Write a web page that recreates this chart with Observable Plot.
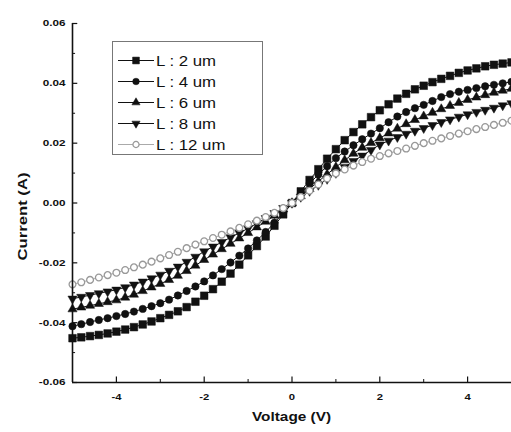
<!DOCTYPE html>
<html>
<head>
<meta charset="utf-8">
<script src="https://cdn.jsdelivr.net/npm/d3@7"></script>
<script src="https://cdn.jsdelivr.net/npm/@observablehq/plot@0.6"></script>
<style>
  html, body { margin: 0; padding: 0; background: #fff; }
  #wrap { position: relative; width: 511px; height: 432px; font-family: "Liberation Sans", Arial, sans-serif; }
  #legend { position: absolute; left: 112px; top: 41px; width: 151px; height: 114px; box-sizing: border-box; border: 1px solid #777; background: #fff; }
  .row { position: absolute; left: 0; height: 21px; display: flex; align-items: center; }
  .row svg { margin-left: 3px; flex: none; }
  .row span { margin-left: 0px; font-size: 14px; color: #111; display: inline-block; transform: scaleX(1.2); transform-origin: left center; white-space: nowrap; }
</style>
</head>
<body>
<div id="wrap"><div id="chart"></div><div id="legend"></div></div>
<script>
// Voltage sweep (V)
const voltage = [-5.0,-4.8,-4.6,-4.4,-4.2,-4.0,-3.8,-3.6,-3.4,-3.2,-3.0,-2.8,-2.6,-2.4,-2.2,-2.0,-1.8,-1.6,-1.4,-1.2,-1.0,-0.8,-0.6,-0.4,-0.2,0.0,
  0.2,0.4,0.6,0.8,1.0,1.2,1.4,1.6,1.8,2.0,2.2,2.4,2.6,2.8,3.0,3.2,3.4,3.6,3.8,4.0,4.2,4.4,4.6,4.8,5.0];

// Current (A) for each channel length
const i2um = [-0.0452,-0.0449,-0.0445,-0.0441,-0.0436,-0.0430,-0.0423,-0.0415,-0.0406,-0.0396,-0.0385,-0.0374,-0.0362,-0.0348,-0.0330,-0.0310,-0.0288,-0.0263,-0.0236,-0.0206,-0.0175,-0.0144,-0.0112,-0.0076,-0.0038,0.0000,
  0.0039,0.0077,0.0113,0.0148,0.0180,0.0210,0.0237,0.0263,0.0287,0.0310,0.0330,0.0349,0.0365,0.0380,0.0392,0.0404,0.0415,0.0425,0.0435,0.0443,0.0450,0.0457,0.0462,0.0466,0.0470];
const i4um = [-0.0412,-0.0405,-0.0398,-0.0391,-0.0385,-0.0378,-0.0371,-0.0363,-0.0354,-0.0345,-0.0335,-0.0323,-0.0309,-0.0294,-0.0279,-0.0262,-0.0242,-0.0221,-0.0199,-0.0176,-0.0152,-0.0125,-0.0097,-0.0066,-0.0033,0.0000,
  0.0032,0.0065,0.0095,0.0123,0.0150,0.0172,0.0193,0.0213,0.0232,0.0250,0.0270,0.0289,0.0304,0.0317,0.0328,0.0341,0.0354,0.0364,0.0372,0.0378,0.0384,0.0390,0.0395,0.0400,0.0405];
const i6um = [-0.0355,-0.0349,-0.0343,-0.0337,-0.0331,-0.0325,-0.0316,-0.0306,-0.0294,-0.0282,-0.0270,-0.0257,-0.0243,-0.0227,-0.0209,-0.0190,-0.0172,-0.0154,-0.0136,-0.0118,-0.0100,-0.0081,-0.0062,-0.0042,-0.0021,0.0000,
  0.0023,0.0047,0.0072,0.0096,0.0120,0.0143,0.0165,0.0185,0.0201,0.0217,0.0233,0.0249,0.0264,0.0278,0.0290,0.0302,0.0314,0.0325,0.0335,0.0345,0.0353,0.0361,0.0369,0.0376,0.0382];
const i8um = [-0.0320,-0.0314,-0.0308,-0.0302,-0.0296,-0.0290,-0.0282,-0.0273,-0.0263,-0.0252,-0.0240,-0.0227,-0.0213,-0.0197,-0.0180,-0.0162,-0.0146,-0.0131,-0.0115,-0.0100,-0.0085,-0.0068,-0.0051,-0.0034,-0.0017,0.0000,
  0.0020,0.0040,0.0060,0.0080,0.0100,0.0120,0.0140,0.0158,0.0177,0.0195,0.0208,0.0220,0.0231,0.0241,0.0250,0.0260,0.0270,0.0279,0.0288,0.0296,0.0304,0.0311,0.0318,0.0326,0.0333];
const i12um = [-0.0272,-0.0265,-0.0257,-0.0249,-0.0241,-0.0233,-0.0224,-0.0215,-0.0206,-0.0196,-0.0185,-0.0174,-0.0163,-0.0151,-0.0139,-0.0128,-0.0117,-0.0106,-0.0095,-0.0083,-0.0071,-0.0059,-0.0047,-0.0033,-0.0017,0.0000,
  0.0020,0.0041,0.0062,0.0082,0.0099,0.0112,0.0125,0.0137,0.0148,0.0157,0.0166,0.0174,0.0182,0.0191,0.0200,0.0208,0.0216,0.0224,0.0232,0.0240,0.0247,0.0254,0.0261,0.0268,0.0275];

const seriesNames = ["L : 2 um", "L : 4 um", "L : 6 um", "L : 8 um", "L : 12 um"];
const xTicks = [-4, -2, 0, 2, 4];
const xMinorTicks = [-3, -1, 1, 3, 5];
const yTicks = [-0.06, -0.04, -0.02, 0, 0.02, 0.04, 0.06];
const yMinorTicks = [-0.05, -0.03, -0.01, 0.01, 0.03, 0.05];
const xTitle = "Voltage (V)";
const yTitle = "Current (A)";

// down-pointing triangle symbol
const triangleDown = {
  draw(ctx, size) {
    d3.symbolTriangle.draw({
      moveTo: (x, y) => ctx.moveTo(x, -y),
      lineTo: (x, y) => ctx.lineTo(x, -y),
      closePath: () => ctx.closePath()
    }, size);
  }
};

const styles = [
  {symbol: d3.symbolSquare, r: 4.3, fill: "#111", stroke: "#111", line: "#111", sw: 0.5},
  {symbol: d3.symbolCircle, r: 3.7, fill: "#111", stroke: "#111", line: "#111", sw: 0.5},
  {symbol: d3.symbolTriangle, r: 3.4, fill: "#111", stroke: "#111", line: "#111", sw: 0.5},
  {symbol: triangleDown, r: 3.4, fill: "#111", stroke: "#111", line: "#111", sw: 0.5},
  {symbol: d3.symbolCircle, r: 3.4, fill: "#fff", stroke: "#999", line: "#aaa", sw: 1.3}
];

const allSeries = [i2um, i4um, i6um, i8um, i12um];
const tables = allSeries.map((arr, k) => voltage.map((v, j) => ({V: v, I: arr[j], s: seriesNames[k]})));

const X0 = -5, Y0 = -0.06;
const marks = [];
tables.forEach((t, k) => {
  const st = styles[k];
  marks.push(Plot.line(t, {x: "V", y: "I", stroke: st.line, strokeWidth: 1}));
  marks.push(Plot.dot(t, {x: "V", y: "I", symbol: () => st.symbol, r: st.r, fill: st.fill, stroke: st.stroke, strokeWidth: st.sw}));
});

const plot = Plot.plot({
  width: 511,
  height: 432,
  marginLeft: 72,
  marginRight: 0,
  marginTop: 23,
  marginBottom: 50,
  style: {fontFamily: "'Liberation Sans', Arial, sans-serif", background: "#fff", color: "#111"},
  x: {domain: [-5, 5]},
  y: {domain: [-0.06, 0.06]},
  symbol: {type: "identity"},
  marks: [
    ...marks,
    Plot.ruleY([Y0], {stroke: "#111", strokeWidth: 1.6}),
    Plot.ruleX([X0], {stroke: "#111", strokeWidth: 1.6}),
    Plot.ruleX(xTicks, {x: d => d, y1: Y0, y2: Y0 + 0.0018, stroke: "#111", strokeWidth: 1.2}),
    Plot.ruleX(xMinorTicks, {x: d => d, y1: Y0, y2: Y0 + 0.001, stroke: "#111", strokeWidth: 1}),
    Plot.ruleY(yTicks, {y: d => d, x1: X0, x2: X0 + 0.12, stroke: "#111", strokeWidth: 1.2}),
    Plot.ruleY(yMinorTicks, {y: d => d, x1: X0, x2: X0 + 0.07, stroke: "#111", strokeWidth: 1}),
    Plot.axisX(xTicks, {tickSize: 0, tickPadding: 11, fontSize: 9, fontWeight: "bold", tickFormat: d => String(d), label: null}),
    Plot.axisY(yTicks, {tickSize: 0, tickPadding: 7, fontSize: 9, fontWeight: "bold", tickFormat: d => d.toFixed(2), label: null})
  ]
});
document.getElementById("chart").appendChild(plot);

// widen tick labels horizontally (the reference font is wide)
const svg = d3.select(plot);
svg.selectAll('g[aria-label="x-axis tick label"] text').each(function () {
  const len = this.getComputedTextLength();
  this.setAttribute("textLength", (len * 1.25).toFixed(1));
  this.setAttribute("lengthAdjust", "spacingAndGlyphs");
});
svg.selectAll('g[aria-label="y-axis tick label"] text').each(function () {
  const len = this.getComputedTextLength();
  this.setAttribute("textLength", (len * 1.3).toFixed(1));
  this.setAttribute("lengthAdjust", "spacingAndGlyphs");
});

// axis titles
const xs = plot.scale("x"), ys = plot.scale("y");
const xMid = (xs.range[0] + xs.range[1]) / 2;
const yMid = (ys.range[0] + ys.range[1]) / 2;
svg.append("text").text(xTitle)
  .attr("x", xMid).attr("y", ys.range[0] + 39)
  .attr("text-anchor", "middle").attr("font-size", 12).attr("font-weight", "bold").attr("fill", "#111")
  .attr("textLength", 79).attr("lengthAdjust", "spacingAndGlyphs");
svg.append("text").text(yTitle)
  .attr("transform", `translate(${xs.range[0] - 50},${yMid + 14}) rotate(-90)`)
  .attr("text-anchor", "middle").attr("dy", "0.35em").attr("font-size", 13).attr("font-weight", "bold").attr("fill", "#111")
  .attr("textLength", 88).attr("lengthAdjust", "spacingAndGlyphs");

// legend
const legend = d3.select("#legend");
seriesNames.forEach((name, k) => {
  const st = styles[k];
  const row = legend.append("div").attr("class", "row").style("top", (8 + 21 * k) + "px");
  const s = row.append("svg").attr("width", 40).attr("height", 21);
  s.append("line").attr("x1", 2).attr("x2", 38).attr("y1", 10.5).attr("y2", 10.5)
    .attr("stroke", st.line).attr("stroke-width", 1);
  s.append("path").attr("transform", "translate(20,10.5)")
    .attr("d", d3.symbol(st.symbol, Math.PI * st.r * st.r * 0.8)())
    .attr("fill", st.fill).attr("stroke", st.stroke).attr("stroke-width", st.sw);
  row.append("span").text(name);
});
</script>
</body>
</html>
